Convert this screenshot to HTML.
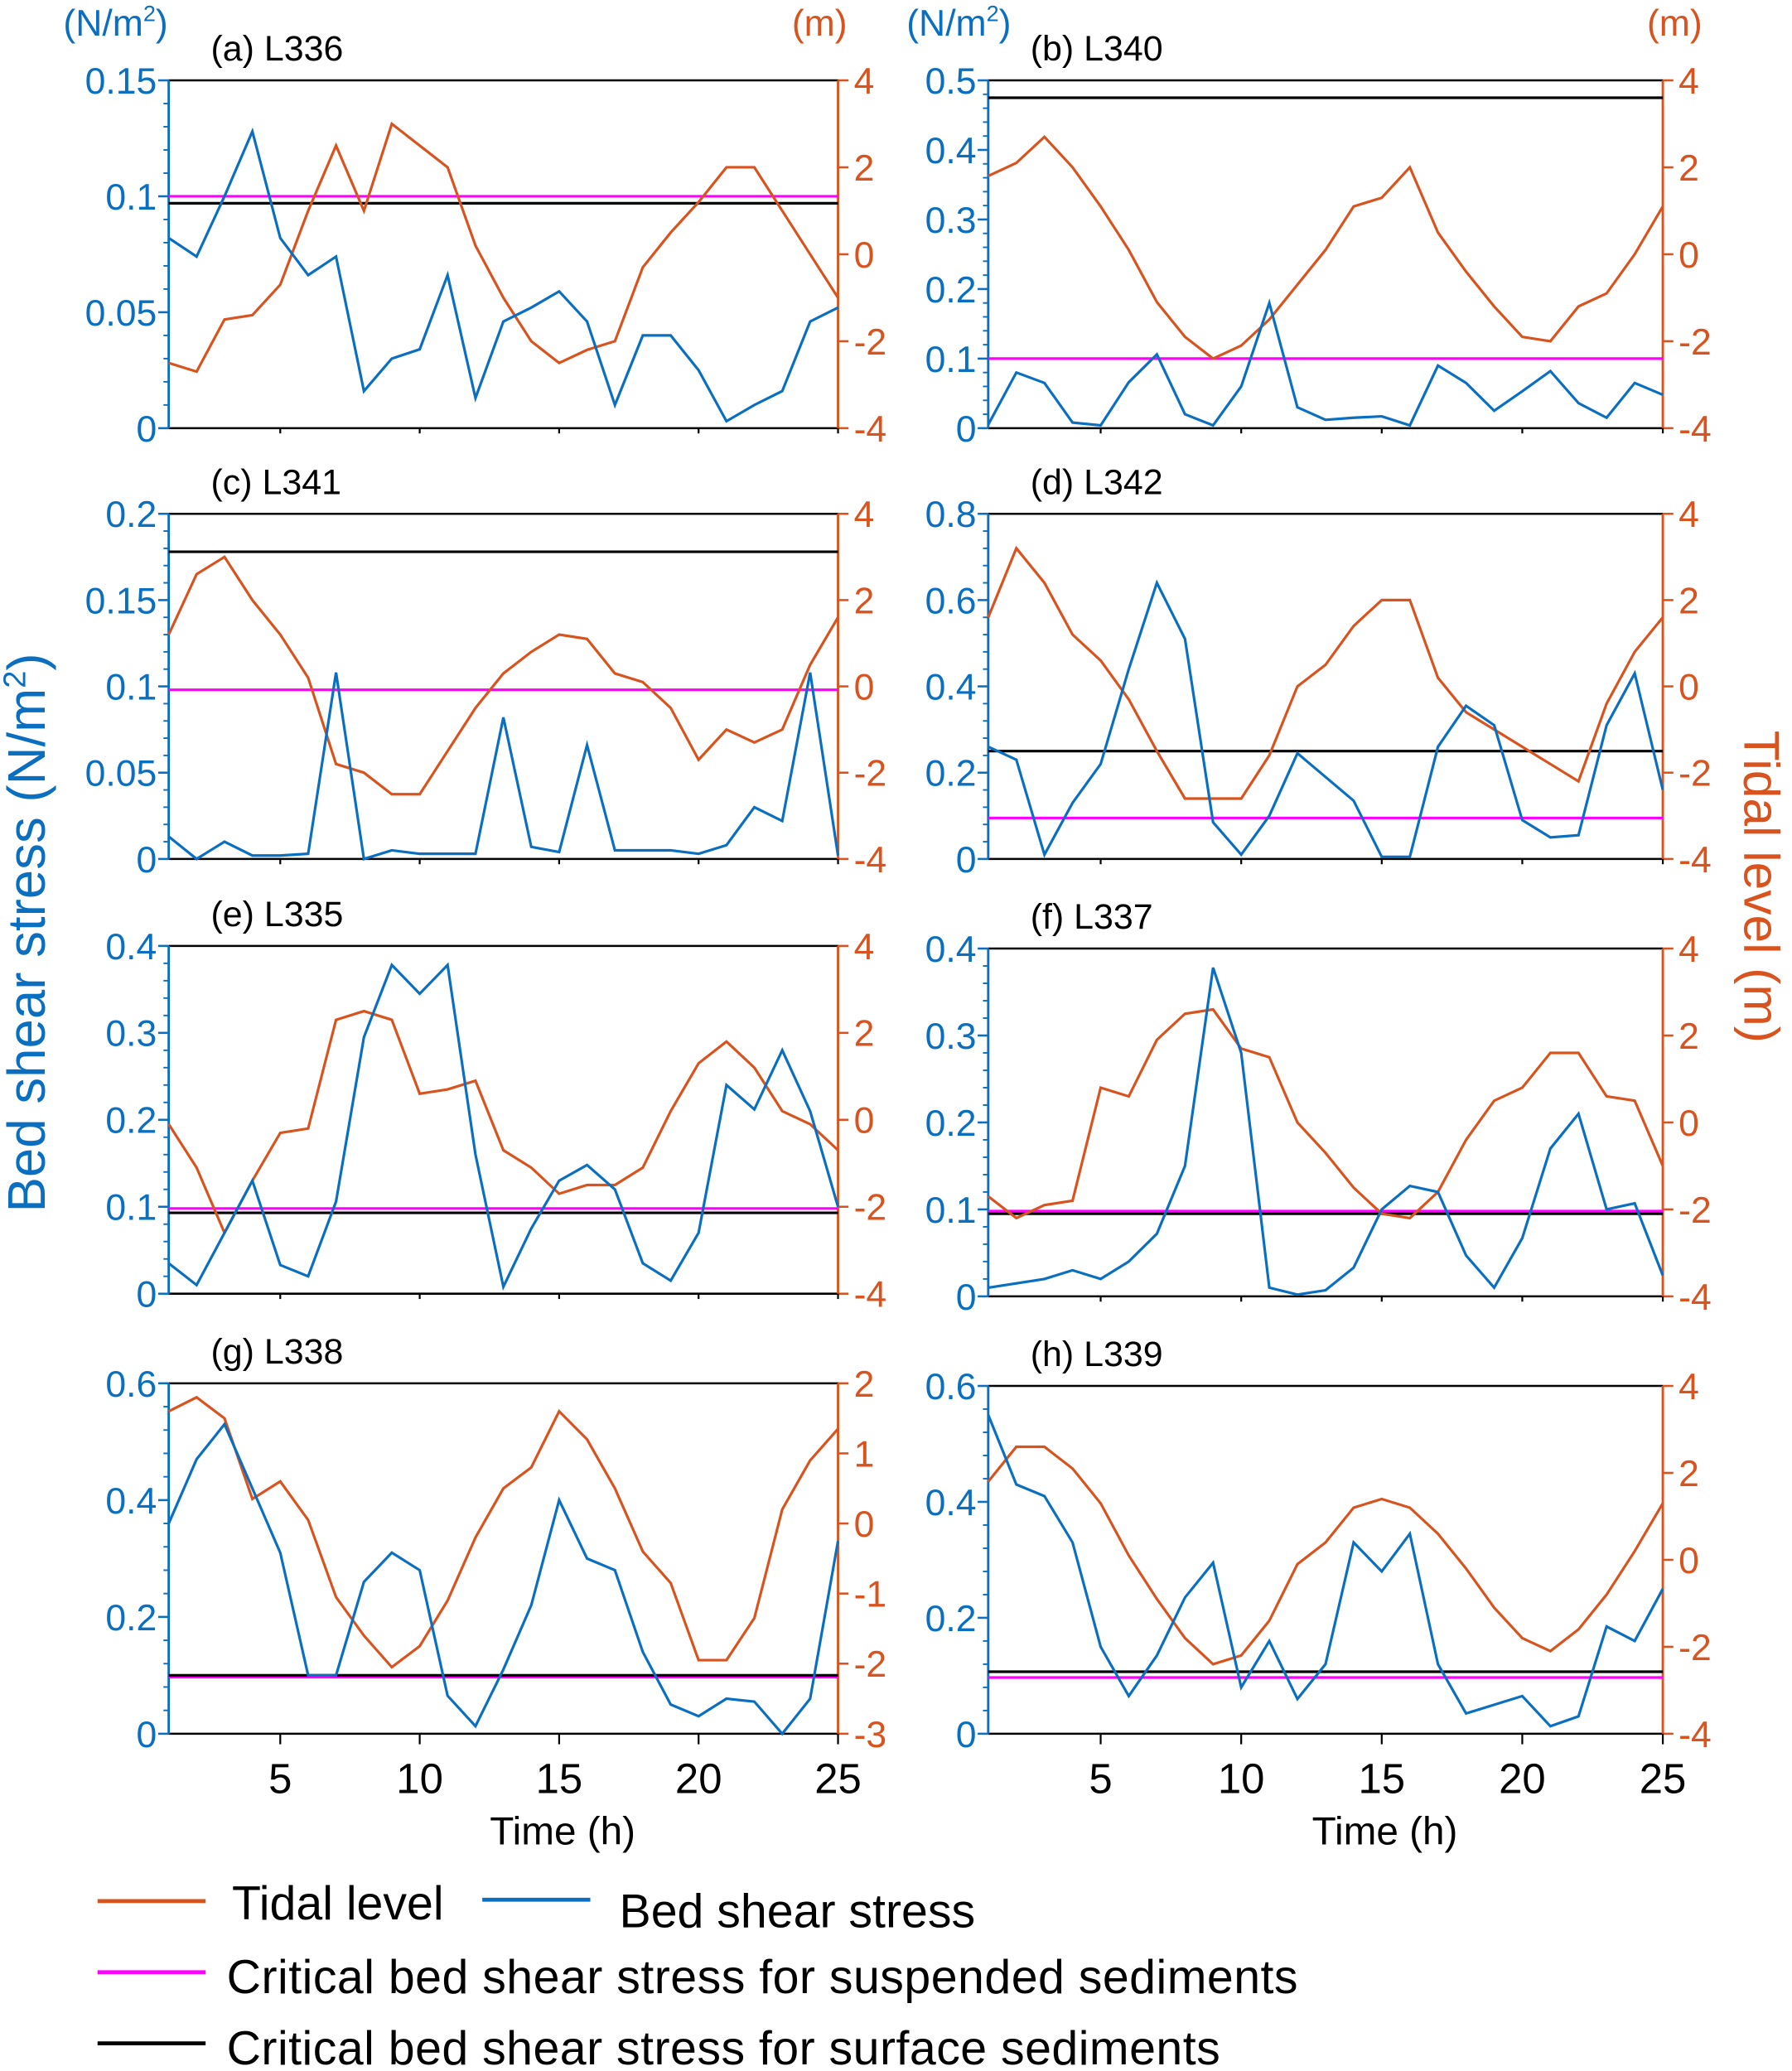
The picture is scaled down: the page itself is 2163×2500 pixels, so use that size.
<!DOCTYPE html>
<html><head><meta charset="utf-8"><style>
html,body{margin:0;padding:0;background:#fff}
svg{display:block}
text{font-family:"Liberation Sans",sans-serif}
</style></head><body>
<svg id="chart" width="2163" height="2500" viewBox="0 0 1360 1572" xmlns="http://www.w3.org/2000/svg">
<g id="g"></g>
</svg>
<script>
const hours = [1,2,3,4,5,6,7,8,9,10,11,12,13,14,15,16,17,18,19,20,21,22,23,24,25];
const panelIds = ["a","b","c","d","e","f","g","h"];
const panelTitles = ["(a) L336","(b) L340","(c) L341","(d) L342","(e) L335","(f) L337","(g) L338","(h) L339"];
const stressA = [0.082,0.074,0.1,0.128,0.082,0.066,0.074,0.016,0.03,0.034,0.066,0.013,0.046,0.052,0.059,0.046,0.01,0.04,0.04,0.025,0.003,0.01,0.016,0.046,0.052];
const tideA = [-2.5,-2.7,-1.5,-1.4,-0.7,1.0,2.5,1.0,3.0,2.5,2.0,0.2,-1.0,-2.0,-2.5,-2.2,-2.0,-0.3,0.5,1.2,2.0,2.0,1.0,0,-1.0];
const stressB = [0.005,0.08,0.065,0.008,0.004,0.066,0.106,0.02,0.004,0.06,0.18,0.03,0.012,0.015,0.017,0.004,0.09,0.065,0.025,0.053,0.082,0.036,0.015,0.065,0.048];
const tideB = [1.8,2.1,2.7,2.0,1.1,0.1,-1.1,-1.9,-2.4,-2.1,-1.5,-0.7,0.1,1.1,1.3,2.0,0.5,-0.4,-1.2,-1.9,-2.0,-1.2,-0.9,0,1.1];
const stressC = [0.013,0,0.01,0.002,0.002,0.003,0.108,0,0.005,0.003,0.003,0.003,0.082,0.007,0.004,0.066,0.005,0.005,0.005,0.003,0.008,0.03,0.022,0.108,0.002];
const tideC = [1.2,2.6,3.0,2.0,1.2,0.2,-1.8,-2.0,-2.5,-2.5,-1.5,-0.5,0.3,0.8,1.2,1.1,0.3,0.1,-0.5,-1.7,-1.0,-1.3,-1.0,0.5,1.6];
const stressD = [0.26,0.23,0.01,0.13,0.22,0.44,0.64,0.51,0.085,0.01,0.1,0.245,0.19,0.135,0.005,0.005,0.26,0.355,0.31,0.09,0.05,0.055,0.31,0.43,0.16];
const tideD = [1.6,3.2,2.4,1.2,0.6,-0.3,-1.5,-2.6,-2.6,-2.6,-1.6,0,0.5,1.4,2.0,2.0,0.2,-0.6,-1.0,-1.4,-1.8,-2.2,-0.4,0.8,1.6];
const stressE = [0.035,0.01,0.07,0.13,0.033,0.02,0.106,0.295,0.378,0.345,0.378,0.16,0.008,0.075,0.13,0.148,0.12,0.035,0.015,0.07,0.24,0.212,0.28,0.21,0.1];
const tideE = [-0.1,-1.1,-2.6,-1.4,-0.3,-0.2,2.3,2.5,2.3,0.6,0.7,0.9,-0.7,-1.1,-1.7,-1.5,-1.5,-1.1,0.2,1.3,1.8,1.2,0.2,-0.1,-0.7];
const stressF = [0.01,0.015,0.02,0.03,0.02,0.04,0.072,0.15,0.378,0.28,0.01,0.002,0.007,0.033,0.1,0.127,0.12,0.047,0.01,0.067,0.17,0.21,0.1,0.107,0.024];
const tideF = [-1.7,-2.2,-1.9,-1.8,0.8,0.6,1.9,2.5,2.6,1.7,1.5,0,-0.7,-1.5,-2.1,-2.2,-1.6,-0.4,0.5,0.8,1.6,1.6,0.6,0.5,-1.0];
const stressG = [0.36,0.47,0.53,0.42,0.31,0.1,0.1,0.26,0.31,0.28,0.065,0.013,0.11,0.22,0.4,0.3,0.28,0.14,0.05,0.03,0.06,0.055,0,0.06,0.33];
const tideG = [1.6,1.8,1.5,0.35,0.6,0.05,-1.05,-1.6,-2.05,-1.75,-1.1,-0.2,0.5,0.8,1.6,1.2,0.5,-0.4,-0.85,-1.95,-1.95,-1.35,0.2,0.9,1.35];
const stressH = [0.55,0.43,0.41,0.33,0.15,0.065,0.135,0.235,0.295,0.08,0.16,0.06,0.12,0.33,0.28,0.345,0.12,0.035,0.05,0.065,0.013,0.03,0.185,0.16,0.25];
const tideH = [1.8,2.6,2.6,2.1,1.3,0.1,-0.9,-1.8,-2.4,-2.2,-1.4,-0.1,0.4,1.2,1.4,1.2,0.6,-0.2,-1.1,-1.8,-2.1,-1.6,-0.8,0.2,1.3];
const critSuspended = [0.1,0.1,0.098,0.095,0.098,0.098,0.097,0.097];
const critSurface = [0.097,0.475,0.178,0.25,0.093,0.095,0.1,0.107];
const leftTicks = [[0,0.05,0.1,0.15],[0,0.1,0.2,0.3,0.4,0.5],[0,0.05,0.1,0.15,0.2],[0,0.2,0.4,0.6,0.8],[0,0.1,0.2,0.3,0.4],[0,0.1,0.2,0.3,0.4],[0,0.2,0.4,0.6],[0,0.2,0.4,0.6]];
const rightTicks = [[-4,-2,0,2,4],[-4,-2,0,2,4],[-4,-2,0,2,4],[-4,-2,0,2,4],[-4,-2,0,2,4],[-4,-2,0,2,4],[-3,-2,-1,0,1,2],[-4,-2,0,2,4]];
const xTicks = [5,10,15,20,25];
const stressSeries = [stressA,stressB,stressC,stressD,stressE,stressF,stressG,stressH];
const tideSeries = [tideA,tideB,tideC,tideD,tideE,tideF,tideG,tideH];

const BLUE="#0a6fc0", ORANGE="#d9531e", MAG="#ff00ff";
const NS="http://www.w3.org/2000/svg";
const root=document.getElementById('g');
function mk(tag,attrs,parent){const e=document.createElementNS(NS,tag);for(const k in attrs)e.setAttribute(k,attrs[k]);(parent||root).appendChild(e);return e;}
function fmt(v){return String(v);}
const boxes=[[128,636,61,325],[750,1262,61,325],[128,636,390,652],[750,1262,390,652],[128,636,718,982],[750,1262,720,984],[128,636,1050,1316],[750,1262,1052,1316]];

panelIds.forEach((id,i)=>{
  const [x0,x1,y0,y1]=boxes[i];
  const lt=leftTicks[i], rt=rightTicks[i];
  const lmin=lt[0], lmax=lt[lt.length-1], rmin=rt[0], rmax=rt[rt.length-1];
  const X=h=>x0+(h-1)/24*(x1-x0);
  const YL=v=>y1-(v-lmin)/(lmax-lmin)*(y1-y0);
  const YR=v=>y1-(v-rmin)/(rmax-rmin)*(y1-y0);
  const g=mk('g',{});
  
  
  const top=mk('line',{x1:x0,x2:x1,y1:y0,y2:y0,stroke:'#000','stroke-width':1.6},g);
  
  
  const bot=mk('line',{x1:x0,x2:x1,y1:y1,y2:y1,stroke:'#000','stroke-width':1.6},g);
  
  
  const la=mk('line',{x1:x0,x2:x0,y1:y0,y2:y1,stroke:BLUE,'stroke-width':1.8},g);
  
  
  const ra=mk('line',{x1:x1,x2:x1,y1:y0,y2:y1,stroke:ORANGE,'stroke-width':1.8},g);
  
  
  lt.forEach((v,k)=>{
    const y=YL(v);
    mk('line',{x1:x0-8,x2:x0,y1:y,y2:y,stroke:BLUE,'stroke-width':1.6},g);
    const t=mk('text',{x:x0-9,y:y+10,'text-anchor':'end','font-size':28,fill:BLUE},g);
    t.textContent=fmt(v);
    
    
    if(k<lt.length-1){const step=(lt[k+1]-v)/5;for(let m=1;m<5;m++){const ym=YL(v+step*m);mk('line',{x1:x0-4,x2:x0,y1:ym,y2:ym,stroke:BLUE,'stroke-width':1.2},g);}}
  });
  rt.forEach(v=>{
    const y=YR(v);
    mk('line',{x1:x1,x2:x1+8,y1:y,y2:y,stroke:ORANGE,'stroke-width':1.6},g);
    const t=mk('text',{x:x1+12,y:y+10,'font-size':28,fill:ORANGE},g);
    t.textContent=fmt(v);
    
    
  });
  const isBottom=i>=6;
  xTicks.forEach(h=>{
    const x=X(h);
    mk('line',{x1:x,x2:x,y1:y1,y2:y1+(isBottom?8:4),stroke:'#000','stroke-width':1.4},g);
    if(isBottom){const t=mk('text',{x:x,y:y1+45,'text-anchor':'middle','font-size':32,fill:'#000'},g);t.textContent=h;
      
      }
  });
  if(isBottom){const t=mk('text',{x:(x0+x1)/2+45,y:y1+84,'text-anchor':'middle','font-size':30,fill:'#000'},g);t.textContent='Time (h)';
    
    }
  const tt=mk('text',{x:x0+32,y:y0-15,'font-size':27,fill:'#000'},g);
  tt.textContent=panelTitles[i];
  
  
  const cs=mk('line',{x1:x0,x2:x1,y1:YL(critSuspended[i]),y2:YL(critSuspended[i]),stroke:MAG,'stroke-width':2},g);
  
  
  const cf=mk('line',{x1:x0,x2:x1,y1:YL(critSurface[i]),y2:YL(critSurface[i]),stroke:'#000','stroke-width':2},g);
  
  
  const tp=mk('polyline',{points:hours.map((h,k)=>X(h)+','+YR(tideSeries[i][k])).join(' '),fill:'none',stroke:ORANGE,'stroke-width':2},g);
  
  
  const sp=mk('polyline',{points:hours.map((h,k)=>X(h)+','+YL(stressSeries[i][k])).join(' '),fill:'none',stroke:BLUE,'stroke-width':2},g);
  
  
});
</script>
<svg style="position:absolute;left:0;top:0" width="2163" height="2500" viewBox="0 0 1360 1572">
<g font-family="Liberation Sans, sans-serif">
<text x="48" y="27" font-size="28" fill="#0a6fc0">(N/m<tspan font-size="17" dy="-11">2</tspan><tspan dy="11">)</tspan></text>
<text x="601" y="27" font-size="28" fill="#d9531e">(m)</text>
<text x="688" y="27" font-size="28" fill="#0a6fc0">(N/m<tspan font-size="17" dy="-11">2</tspan><tspan dy="11">)</tspan></text>
<text x="1250" y="27" font-size="28" fill="#d9531e">(m)</text>
<text transform="translate(34,708) rotate(-90)" text-anchor="middle" font-size="40" fill="#0a6fc0">Bed shear stress (N/m<tspan font-size="24" dy="-15">2</tspan><tspan dy="15">)</tspan></text>
<text transform="translate(1324,673) rotate(90)" text-anchor="middle" font-size="38" fill="#d9531e">Tidal level (m)</text>
<line x1="74" x2="156" y1="1443" y2="1443" stroke="#d9531e" stroke-width="3"/>
<text x="176" y="1457" font-size="36">Tidal level</text>
<line x1="366" x2="448" y1="1442" y2="1442" stroke="#0a6fc0" stroke-width="3"/>
<text x="470" y="1463" font-size="36">Bed shear stress</text>
<line x1="74" x2="156" y1="1497" y2="1497" stroke="#ff00ff" stroke-width="3"/>
<text x="172" y="1513" font-size="36" textLength="813">Critical bed shear stress for suspended sediments</text>
<line x1="74" x2="156" y1="1551" y2="1551" stroke="#000" stroke-width="3"/>
<text x="172" y="1567" font-size="36" textLength="754">Critical bed shear stress for surface sediments</text>
</g>
</svg>
</body></html>
